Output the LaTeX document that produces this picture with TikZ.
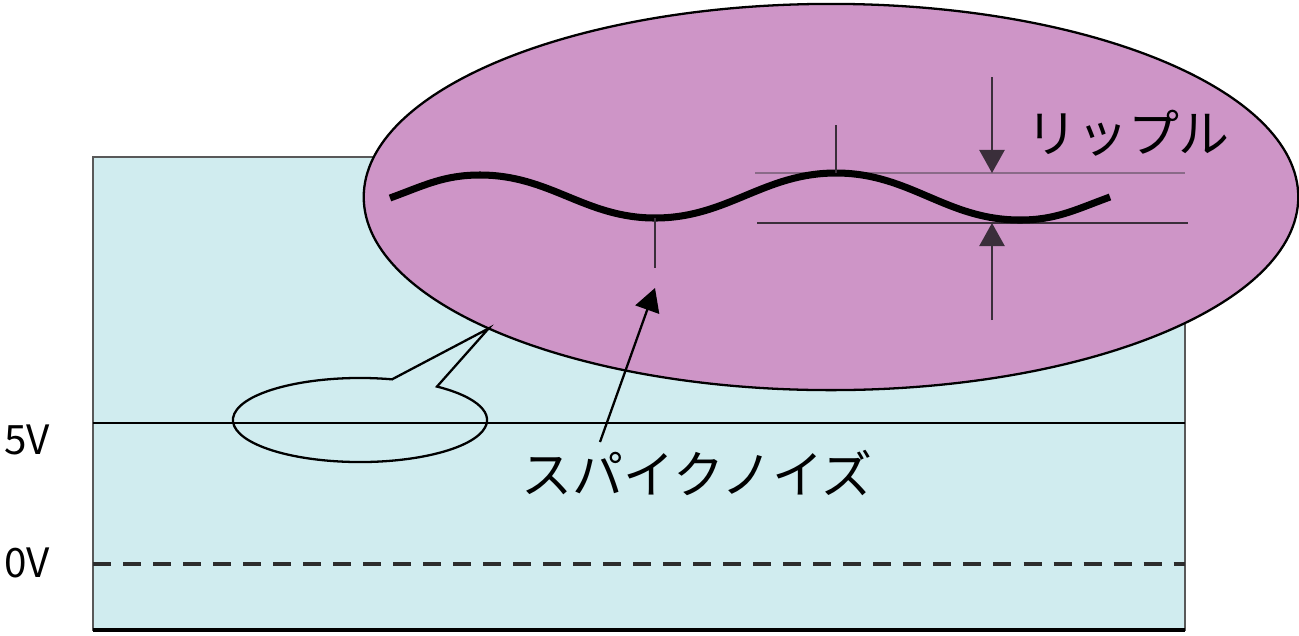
\documentclass[tikz,border=0pt]{standalone}
\usepackage{fontspec}
\newfontfamily\jpfont{Noto Sans CJK JP}
\usetikzlibrary{arrows.meta,shapes.geometric,calc}
\definecolor{panelblue}{HTML}{D0ECEF}
\definecolor{lensviolet}{HTML}{CE95C7}
\definecolor{levelgray}{HTML}{8A6A88}
\definecolor{leveldark}{HTML}{3A2E3A}
\begin{document}
\begin{tikzpicture}[x=0.01cm,y=0.01cm,
  labeltext/.style={font=\jpfont\fontsize{14.5pt}{16pt}\selectfont, inner sep=0},
  volttext/.style={font=\jpfont\fontsize{11.5pt}{13pt}\selectfont, inner sep=0},
  thinline/.style={line width=0.65pt},
  tipline/.style={thinline, -{Triangle[length=0.23cm,width=0.25cm]}}]
\useasboundingbox (0,0) rectangle (1299,635);
\draw [gray!70!black, fill=panelblue, line width=0.8pt] (93,5) rectangle (1185,478);
\draw [line width=1pt] (93,5) -- (1185,5);
\draw [line width=0.75pt] (93,212) -- (1185,212);
\draw [gray!35!black, line width=0.9pt, dash pattern=on 0.18cm off 0.12cm] (93,71) -- (1185,71);
\node [volttext] (fivev) at (27,195) {5V};
\node [volttext] (zerov) at (27,72) {0V};
\node [ellipse, draw, fill=lensviolet, thinline, minimum width=9.34cm, minimum height=3.86cm, inner sep=0, outer sep=0] (lens) at (831,438) {};
% callout round the 5V line
\draw [thinline] (lens.201) -- ($(360,215)+(75.4:1.27cm and 0.42cm)$) arc [start angle=75.4, end angle=412.7, x radius=1.27cm, y radius=0.42cm] -- cycle;
\draw [levelgray, thinline] (755,462) -- (1185,462);
\draw [leveldark, thinline] (757,412) -- (1188,412);
\draw [line width=2pt] (390,437) to[out=20,in=180] (480,460) to[out=0,in=180] (655,417) coordinate (trough) to[out=0,in=180] (836,462) coordinate (crest) to[out=0,in=180] (1020,415) to[out=0,in=200] (1110,438);
\draw [leveldark, thinline] (trough) -- ++(0,-50);
\draw [leveldark, thinline] (crest) -- ++(0,48);
\coordinate (rtop) at (992,558);
\coordinate (rbot) at (992,315);
\coordinate (upper) at (992,462);
\coordinate (lower) at (992,412);
\draw [leveldark, tipline] (rtop) -- (upper);
\draw [leveldark, tipline] (rbot) -- (lower);
\node [labeltext] (ripple) at (1128,502) {リップル};
\node [labeltext] (spike) at (697,162) {スパイクノイズ};
\coordinate (spikefoot) at (600,193);
\coordinate (spikehead) at (655,347);
\draw [tipline] (spikefoot) -- (spikehead);
\end{tikzpicture}
\end{document}
